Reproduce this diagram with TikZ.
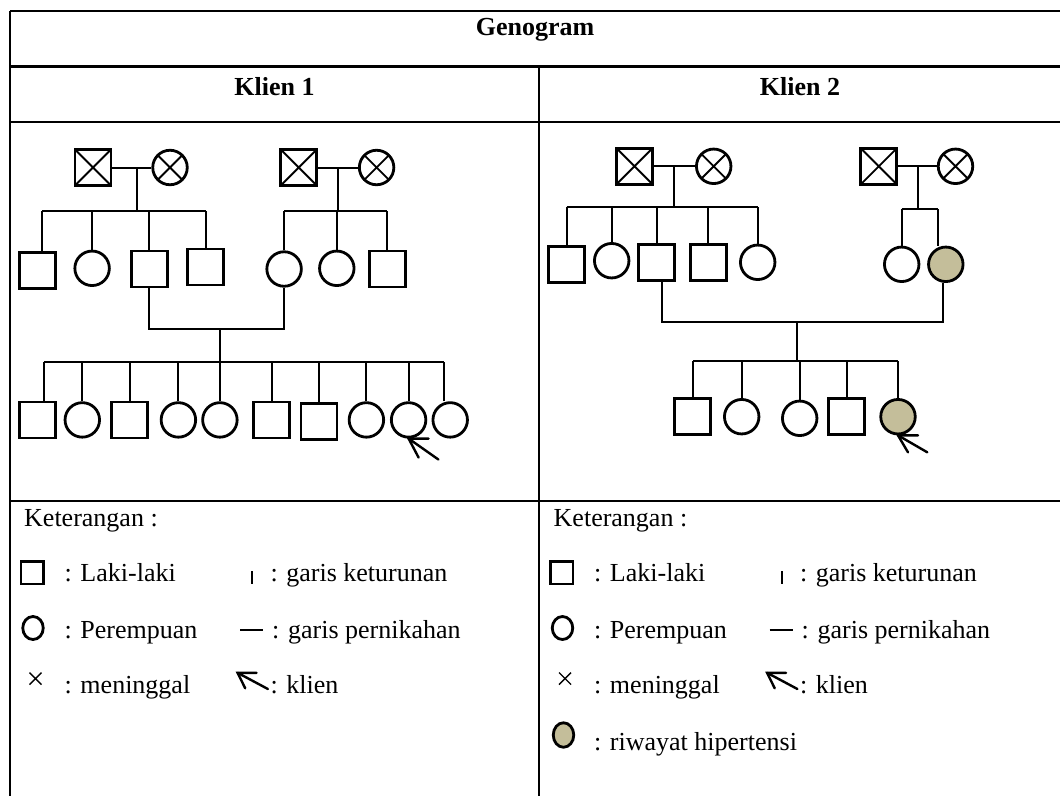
\documentclass[tikz,border=0pt]{standalone}
\usepackage{fontspec}
\setmainfont{Liberation Serif}
\usetikzlibrary{calc,shapes.geometric}
\definecolor{hyp}{RGB}{196,190,154}
\tikzset{
  male/.style={draw, rectangle, line width=2.8pt, minimum size=36pt, inner sep=0pt},
  female/.style={draw, circle, line width=2.8pt, minimum size=34.5pt, inner sep=0pt},
  dead/.style={path picture={\draw[line width=1.9pt]
      (path picture bounding box.north west) -- (path picture bounding box.south east)
      (path picture bounding box.north east) -- (path picture bounding box.south west);}},
  hyper/.style={fill=hyp},
  link/.style={line width=2pt},
  border/.style={line width=2.4pt},
  head/.style={font=\fontsize{26}{30}\selectfont\bfseries, inner sep=0pt, anchor=base},
  txt/.style={font=\fontsize{26}{30}\selectfont, inner sep=0pt, anchor=base west},
  pointer/.style={line width=2.4pt, line cap=round},
  legmale/.style={draw, rectangle, line width=2.6pt, minimum size=22.5pt, inner sep=0pt},
  legfem/.style={draw, ellipse, line width=2.8pt, minimum width=20.5pt, minimum height=23pt, inner sep=0pt},
}
\begin{document}
\begin{tikzpicture}[x=1pt,y=-1pt]
\useasboundingbox (0,0) rectangle (1060,796);
% table
\draw[border] (10,11) -- (1060,11);
\draw[border] (10,66.5) -- (1060,66.5);
\draw[border] (10,122) -- (1060,122);
\draw[border] (10,501) -- (1060,501);
\draw[border] (10,11) -- (10,796);
\draw[border] (539,66.5) -- (539,796);
\node[head] (title) at (535,35) {Genogram};
\node[head] (h1) at (274.5,95) {Klien 1};
\node[head] (h2) at (800,95) {Klien 2};

% ---------------- Klien 1 ----------------
\node[male,dead] (k1gf1) at (93,167.5) {};
\node[female,dead] (k1gm1) at (170,167.5) {};
\node[male,dead] (k1gf2) at (298.7,167.5) {};
\node[female,dead] (k1gm2) at (376.6,167.5) {};
\draw[link] (k1gf1.east) -- (k1gm1.west);
\draw[link] (k1gf2.east) -- (k1gm2.west);
\coordinate (k1d1) at (136.7,167.5);
\coordinate (k1d2) at (338.2,167.5);
\coordinate (k1s1) at (0,211.3);
\node[male] (k1a1) at (37.4,270.7) {};
\node[female] (k1a2) at (92.1,268.3) {};
\node[male] (k1a3) at (149.3,269) {};
\node[male] (k1a4) at (205.5,267) {};
\node[female] (k1b1) at (284.1,269) {};
\node[female] (k1b2) at (336.8,268.3) {};
\node[male] (k1b3) at (387.4,269) {};
\draw[link] (k1d1) -- (k1d1 |- k1s1);
\draw[link] (k1d2) -- (k1d2 |- k1s1);
\draw[link] ([xshift=5pt]k1a1.north |- k1s1) -- (k1a4.north |- k1s1);
\draw[link] ([xshift=5pt]k1a1.north) -- ([xshift=5pt]k1a1.north |- k1s1);
\foreach \n in {a2,a3,a4,b1,b2,b3}
  \draw[link] (k1\n.north) -- (k1\n.north |- k1s1);
\draw[link] (k1b1.north |- k1s1) -- (k1b3.north |- k1s1);
\coordinate (k1pm) at (220.4,329);
\draw[link] (k1a3.south) |- (k1pm) -| (k1b1.south);
\coordinate (k1s3) at (0,362);
\draw[link] (k1pm) -- (k1pm |- k1s3);
\node[male] (k1c1) at (37.4,419.9) {};
\node[female] (k1c2) at (82.3,419.9) {};
\node[male] (k1c3) at (129.5,419.9) {};
\node[female] (k1c4) at (178.4,419.9) {};
\node[female] (k1c5) at (219.9,419.9) {};
\node[male] (k1c6) at (271.7,419.9) {};
\node[male] (k1c7) at (318.9,421.5) {};
\node[female] (k1c8) at (366.4,419.9) {};
\node[female] (k1c9) at (408.6,419.9) {};
\node[female] (k1c10) at (450.2,419.9) {};
\draw[link] ([xshift=6.5pt]k1c1.north |- k1s3) -- ([xshift=-6pt]k1c10.north |- k1s3);
\draw[link] ([xshift=6.5pt]k1c1.north) -- ([xshift=6.5pt]k1c1.north |- k1s3);
\draw[link] ([xshift=-6pt]k1c10.north) -- ([xshift=-6pt]k1c10.north |- k1s3);
\foreach \n in {c2,c3,c4,c5,c6,c7,c8,c9}
  \draw[link] (k1\n.north) -- (k1\n.north |- k1s3);
\coordinate (k1tail) at (438.4,459.5);
\draw[pointer] (k1tail) -- (k1c9.south);
\draw[pointer] ([xshift=20pt]k1c9.south) -- (k1c9.south) -- ([xshift=10pt,yshift=-19pt]k1c9.south);

% ---------------- Klien 2 ----------------
\node[male,dead] (k2gf1) at (634.5,166.3) {};
\node[female,dead] (k2gm1) at (713.7,166.3) {};
\node[male,dead] (k2gf2) at (878.8,166.3) {};
\node[female,dead] (k2gm2) at (955.5,166.3) {};
\draw[link] (k2gf1.east) -- (k2gm1.west);
\draw[link] (k2gf2.east) -- (k2gm2.west);
\coordinate (k2d1) at (674,166.3);
\coordinate (k2d2) at (917.7,166.3);
\coordinate (k2s1) at (0,206.7);
\coordinate (k2s2) at (0,208.7);
\node[male] (k2e1) at (566.7,264.3) {};
\node[female] (k2e2) at (611.7,260.7) {};
\node[male] (k2e3) at (656.7,262.3) {};
\node[male] (k2e4) at (708.3,262.3) {};
\node[female] (k2e5) at (757.7,262.3) {};
\node[female] (k2f1) at (901.7,264.3) {};
\node[female,hyper] (k2f2) at (945.8,264.3) {};
\draw[link] (k2d1) -- (k2d1 |- k2s1);
\draw[link] (k2d2) -- (k2d2 |- k2s2);
\draw[link] (k2e1.north |- k2s1) -- (k2e5.north |- k2s1);
\foreach \n in {e1,e2,e3,e4,e5}
  \draw[link] (k2\n.north) -- (k2\n.north |- k2s1);
\draw[link] (k2f1.north |- k2s2) -- ([xshift=-8pt]k2f2.north |- k2s2);
\draw[link] (k2f1.north) -- (k2f1.north |- k2s2);
\draw[link] ([xshift=-8pt]k2f2.north) -- ([xshift=-8pt]k2f2.north |- k2s2);
\coordinate (k2pm) at (797.3,322.3);
\draw[link] ([xshift=5pt]k2e3.south) |- (k2pm) -| ([xshift=-3pt]k2f2.south);
\coordinate (k2s3) at (0,360.7);
\draw[link] (k2pm) -- (k2pm |- k2s3);
\node[male] (k2g1) at (692.8,416.7) {};
\node[female] (k2g2) at (741.7,416.7) {};
\node[female] (k2g3) at (799.7,418.3) {};
\node[male] (k2g4) at (846.7,416.7) {};
\node[female,hyper] (k2g5) at (898,416.7) {};
\draw[link] (k2g1.north |- k2s3) -- (k2g5.north |- k2s3);
\foreach \n in {g1,g2,g3,g4,g5}
  \draw[link] (k2\n.north) -- (k2\n.north |- k2s3);
\coordinate (k2tail) at (927.3,452.3);
\draw[pointer] (k2tail) -- (k2g5.south);
\draw[pointer] ([xshift=20pt]k2g5.south) -- (k2g5.south) -- ([xshift=10pt,yshift=-17pt]k2g5.south);

% ---------------- Legend 1 ----------------
\node[txt] (l1title) at (24,526) {Keterangan :};
\node[legmale] (l1male) at (32.2,572.6) {};
\node[txt] (l1maletxt) at (64.4,581) {: Laki-laki};
\draw[line width=2pt] (252.4,571) -- (252.4,584);
\node[txt] (l1desc) at (270.3,581) {: garis keturunan};
\node[legfem] (l1fem) at (33,628) {};
\node[txt] (l1femtxt) at (64.4,638) {: Perempuan};
\draw[line width=2pt] (240,629.5) -- (263.4,629.5);
\node[txt] (l1mar) at (272,638) {: garis pernikahan};
\draw[line width=1.4pt] (29.5,672.5) -- (41.5,684.5) (29.5,684.5) -- (41.5,672.5);
\node[txt] (l1dead) at (64.4,693) {: meninggal};
\coordinate (l1tip) at (237.6,672.8);
\draw[pointer] (l1tip) -- ++(30.3,16.2);
\draw[pointer] ([xshift=19pt]l1tip) -- (l1tip) -- ([xshift=7.6pt,yshift=-15.5pt]l1tip);
\node[txt] (l1kl) at (270.3,693) {: klien};

% ---------------- Legend 2 ----------------
\node[txt] (l2title) at (553.5,526) {Keterangan :};
\node[legmale] (l2male) at (561.7,572.6) {};
\node[txt] (l2maletxt) at (593.9,581) {: Laki-laki};
\draw[line width=2pt] (781.9,571) -- (781.9,584);
\node[txt] (l2desc) at (799.8,581) {: garis keturunan};
\node[legfem] (l2fem) at (562.5,628) {};
\node[txt] (l2femtxt) at (593.9,638) {: Perempuan};
\draw[line width=2pt] (769.5,629.5) -- (792.9,629.5);
\node[txt] (l2mar) at (801.5,638) {: garis pernikahan};
\draw[line width=1.4pt] (559,672.5) -- (571,684.5) (559,684.5) -- (571,672.5);
\node[txt] (l2dead) at (593.9,693) {: meninggal};
\coordinate (l2tip) at (767.1,672.8);
\draw[pointer] (l2tip) -- ++(30.3,16.2);
\draw[pointer] ([xshift=19pt]l2tip) -- (l2tip) -- ([xshift=7.6pt,yshift=-15.5pt]l2tip);
\node[txt] (l2kl) at (799.8,693) {: klien};
\node[legfem,hyper,minimum height=24.5pt] (l2hyp) at (563.5,735) {};
\node[txt] (l2hyptxt) at (593.9,750) {: riwayat hipertensi};
\end{tikzpicture}
\end{document}
